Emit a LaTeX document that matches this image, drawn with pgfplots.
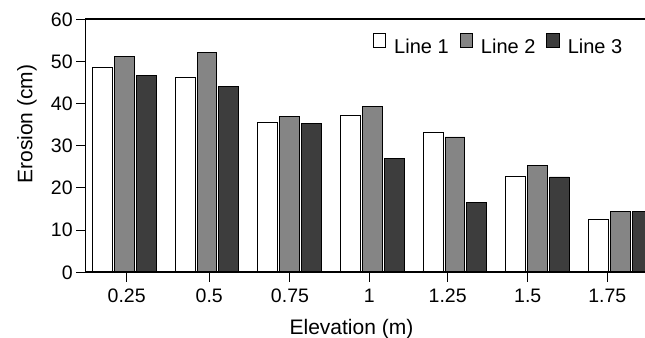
\documentclass[border=0pt]{standalone}
\usepackage{pgfplots}
\pgfplotsset{compat=1.18}
\usepackage{fontspec}
\setmainfont{Liberation Sans}
\usetikzlibrary{calc}
\definecolor{lineB}{gray}{0.52}
\definecolor{lineC}{gray}{0.24}
\pgfplotsset{sqleg/.style={legend image code/.code={\draw[##1,line width=0.8pt] (0pt,0pt) rectangle (12.5pt,13.3pt);}}}
\begin{document}
\begin{tikzpicture}
\begin{axis}[
  scale only axis, width=561.3pt, height=253pt,
  xmin=-0.467, xmax=6.323, ymin=0, ymax=60,
  axis on top,
  ybar, bar width=0.24,
  xtick={0.029,1.028,2.004,2.964,3.912,4.880,5.843},
  xticklabels={0.25,0.5,0.75,1,1.25,1.5,1.75},
  ytick={0,10,20,30,40,50,60},
  tick align=outside, tick pos=left,
  major tick length=9.5pt,
  every tick/.style={black, line width=1pt},
  axis line style={line width=1.6pt},
  /pgf/number format/assume math mode=true,
  tick label style={font=\fontsize{19.5}{22}\selectfont},
  xticklabel style={yshift=-4pt},
  label style={font=\fontsize{21}{24}\selectfont},
  xlabel={Elevation (m)}, ylabel={Erosion (cm)},
  xlabel style={at={([yshift=-62.7pt]rel axis cs:0.4735,0)}, anchor=base},
  ylabel style={at={([xshift=-53.4pt]rel axis cs:0,0.586)}, anchor=base},
  legend columns=-1,
  legend style={draw=none, fill=none, inner sep=0pt,
    at={(rel axis cs:0.5113,0.9447)}, anchor=north west,
    font=\fontsize{20}{24}\selectfont,
    nodes={inner sep=0pt},
    /tikz/every odd column/.append style={column sep=8pt},
    /tikz/every even column/.append style={column sep=11pt}},
]
\addplot[fill=white, draw=black, line width=0.8pt, bar shift=-0.264, sqleg]
  coordinates {(0,48.6) (1,46.3) (2,35.6) (3,37.3) (4,33.1) (5,22.7) (6,12.6)};
\addplot[fill=lineB, draw=black, line width=0.8pt, bar shift=0, sqleg]
  coordinates {(0,51.1) (1,52.2) (2,37.0) (3,39.4) (4,32.1) (5,25.3) (6,14.5)};
\addplot[fill=lineC, draw=black, line width=0.8pt, bar shift=0.264, sqleg]
  coordinates {(0,46.6) (1,44.0) (2,35.2) (3,26.9) (4,16.5) (5,22.6) (6,14.5)};
\legend{Line 1, Line 2, Line 3}
\end{axis}
\pgfresetboundingbox
\path ($(current axis.south west)+(-85.7pt,-65.7pt)$) rectangle ($(current axis.north east)+(-2pt,19.3pt)$);
\end{tikzpicture}
\end{document}
